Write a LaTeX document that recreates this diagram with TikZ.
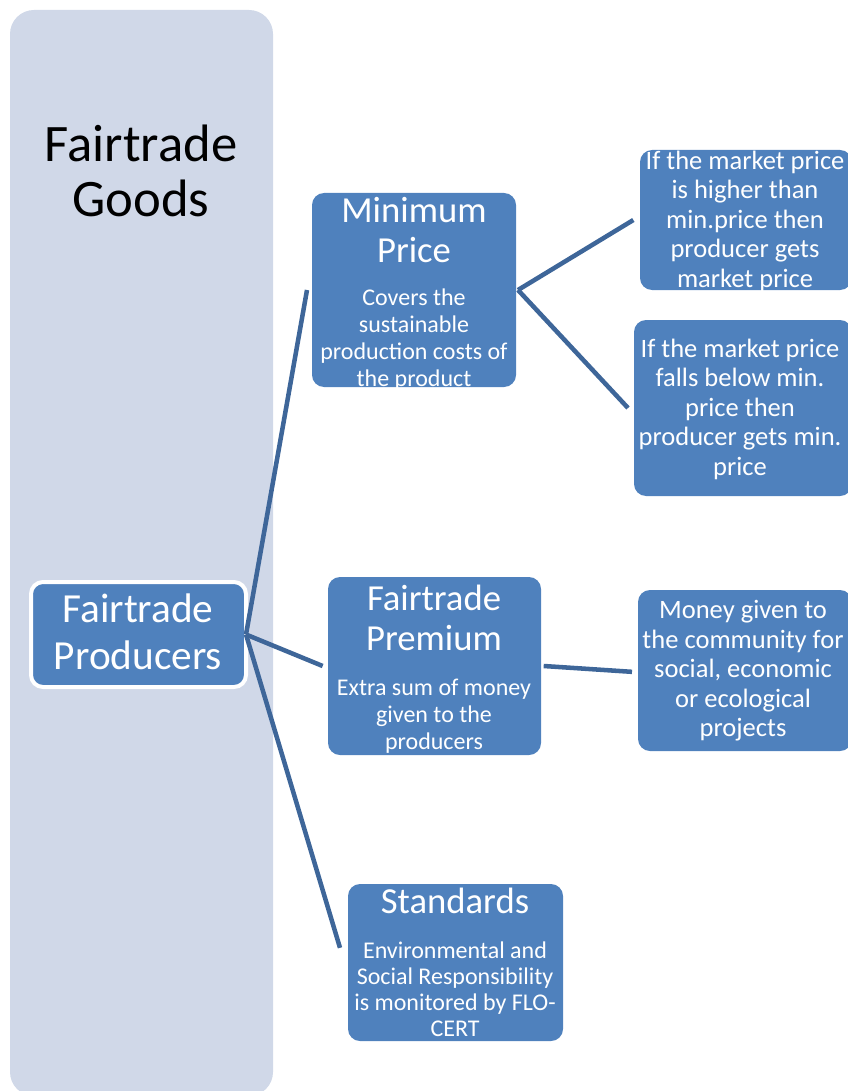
\documentclass[tikz,border=0pt]{standalone}
\usepackage{fontspec}
\setmainfont{Carlito}
\usetikzlibrary{calc}
\definecolor{panelgrey}{RGB}{208,216,232}
\definecolor{boxblue}{RGB}{79,129,189}
\definecolor{linkblue}{RGB}{62,102,153}

\begin{document}
\begin{tikzpicture}[x=0.75pt,y=-0.75pt,
  boxsize/.style 2 args={minimum width=#1*0.75pt, minimum height=#2*0.75pt},
  box/.style={fill=boxblue, rounded corners=9pt, inner sep=0pt, outer sep=0pt},
  link/.style={draw=linkblue, line width=3.4pt},
  txt/.style={text=white, align=center, inner sep=0pt},
  goodsfont/.style={font=\fontsize{39.5pt}{41.5pt}\selectfont},
  rootfont/.style={font=\fontsize{31pt}{35.25pt}\selectfont},
  titlefont/.style={font=\fontsize{27.5pt}{30pt}\selectfont},
  bodyfont/.style={font=\fontsize{18pt}{20.25pt}\selectfont},
  leaffont/.style={font=\fontsize{19.9pt}{22.1pt}\selectfont}
]
\useasboundingbox (0,0) rectangle (847,1091);

% background panel
\node[fill=panelgrey, rounded corners=18pt, inner sep=0pt, boxsize={263}{1086}] (panel) at (141.5,553) {};
\node[goodsfont, align=center, inner sep=0pt] (goods) at (141,171) {Fairtrade\\Goods};

% root
\node[box, draw=white, line width=3pt, boxsize={215}{105}] (prod) at (138.5,634.5) {};
\node[txt, rootfont] (prodtxt) at (138,632) {Fairtrade\\Producers};

% second level
\node[box, boxsize={204}{194}] (minp) at (414,290) {};
\node[txt, titlefont] (minptitle) at (414,230) {Minimum\\Price};
\node[txt, bodyfont] (minpbody) at (414,340) {Covers the\\sustainable\\production costs of\\the product};

\node[box, boxsize={213}{178}] (prem) at (434.5,666) {};
\node[txt, titlefont] (premtitle) at (434,618) {Fairtrade\\Premium};
\node[txt, bodyfont] (prembody) at (434,716) {Extra sum of money\\given to the\\producers};

\node[box, boxsize={215}{157}] (std) at (455.5,962.5) {};
\node[txt, titlefont] (stdtitle) at (455,901) {Standards};
\node[txt, bodyfont, font=\fontsize{18pt}{19.5pt}\selectfont] (stdbody) at (455,989) {Environmental and\\Social Responsibility\\is monitored by FLO-\\CERT};

% third level
\node[box, boxsize={212}{140}] (high) at (746,220) {};
\node[txt, leaffont] (hightxt) at (745,221) {If the market price\\is higher than\\min.price then\\producer gets\\market price};

\node[box, boxsize={218}{176}] (low) at (743,408) {};
\node[txt, leaffont] (lowtxt) at (740,409) {If the market price\\falls below min.\\price then\\producer gets min.\\price};

\node[box, boxsize={214}{161}] (money) at (745,670.5) {};
\node[txt, leaffont] (moneytxt) at (743,671) {Money given to\\the community for\\social, economic\\or ecological\\projects};

% connectors
\draw[link] (prod.east) -- ([xshift=-3.75pt]minp.west);
\draw[link] (prod.east) -- ([xshift=-4pt]prem.west);
\draw[link] (prod.east) -- ([xshift=-6pt,yshift=11pt]std.west);
\draw[link] ([xshift=1.5pt]minp.east) -- ([xshift=-5pt]high.west);
\draw[link] ([xshift=1.5pt]minp.east) -- ([xshift=-4.5pt]low.west);
\draw[link] ([xshift=2pt]prem.east) -- ([xshift=-4.5pt,yshift=-1pt]money.west);
\end{tikzpicture}
\end{document}
